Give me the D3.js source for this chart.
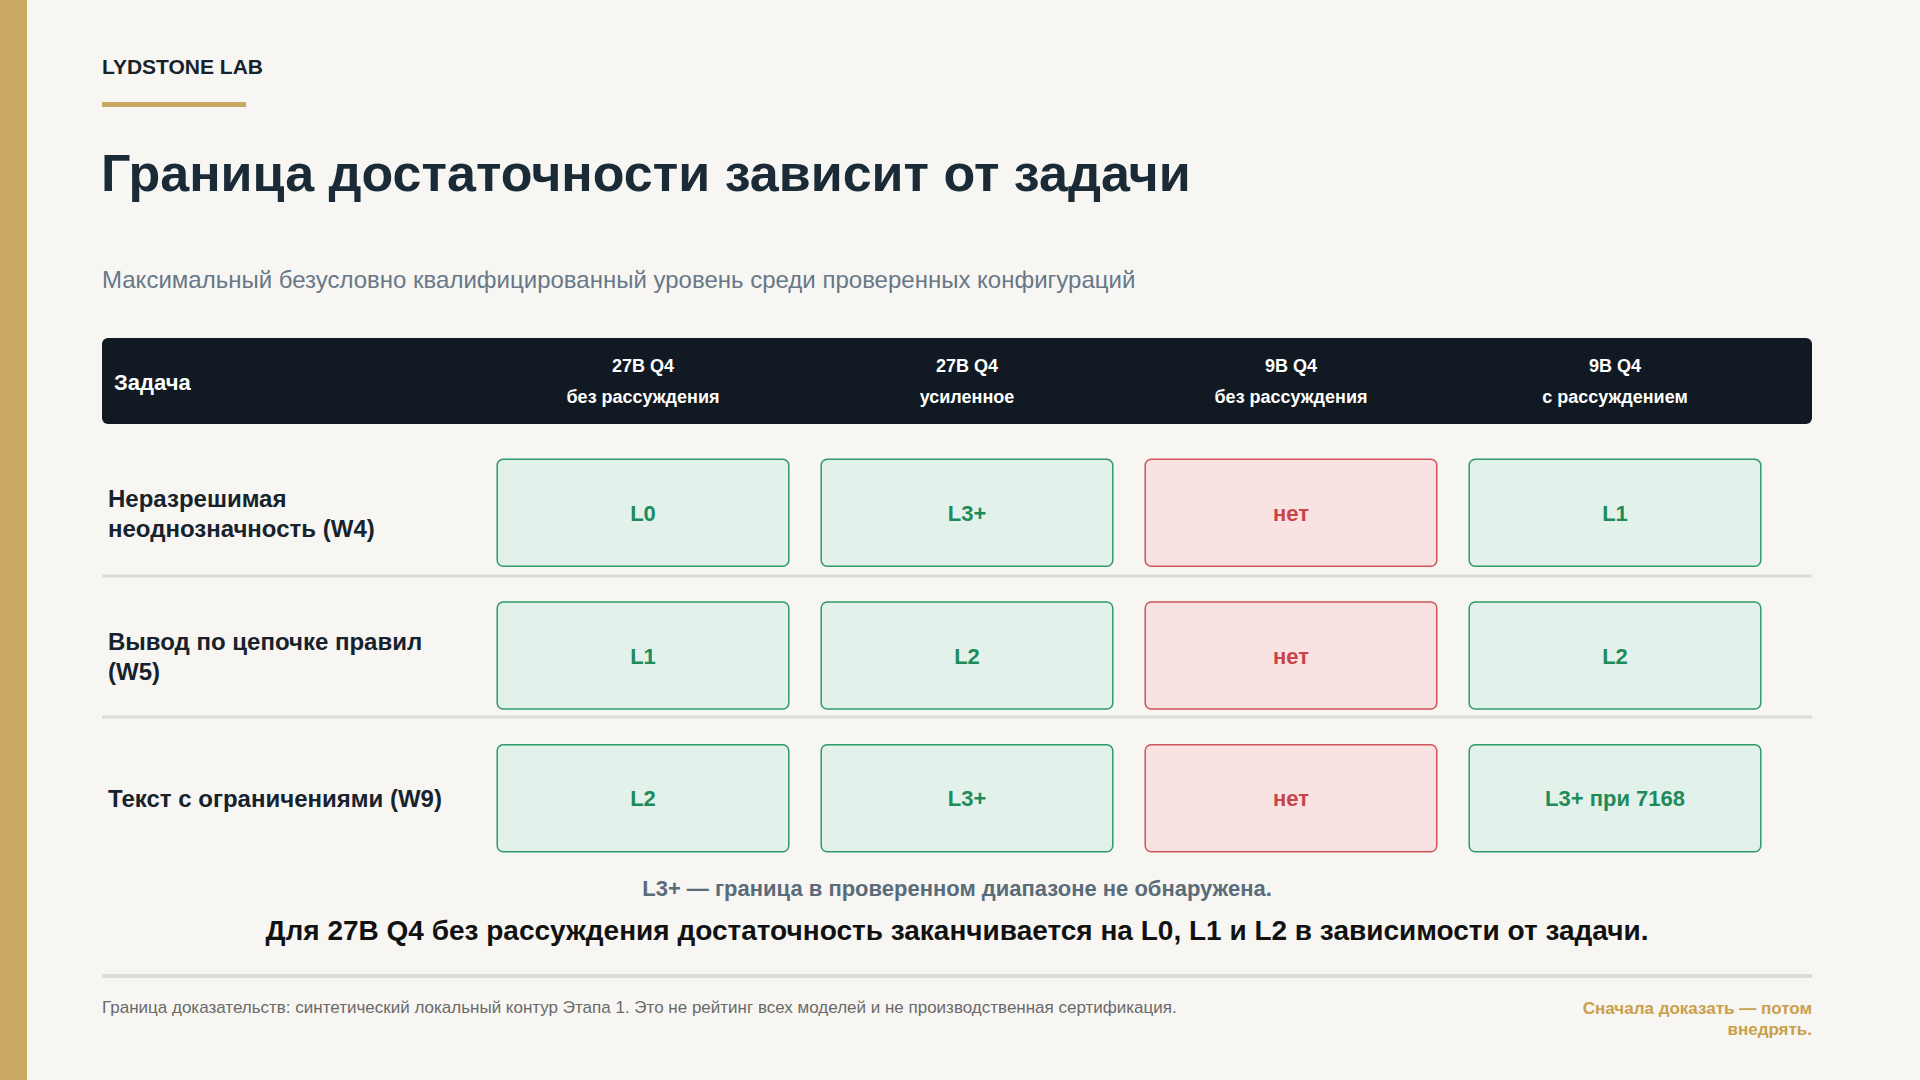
<!DOCTYPE html>
<html><head><meta charset="utf-8">
<script src="https://cdn.jsdelivr.net/npm/d3@7"></script>
<style>body{margin:0;background:#f7f6f2;}svg{display:block;font-family:"Liberation Sans",Arial,sans-serif;}</style>
</head><body><div id="chart"></div>
<script>
var configs = [["27B Q4","без рассуждения"],["27B Q4","усиленное"],["9B Q4","без рассуждения"],["9B Q4","с рассуждением"]];
var tasks = [["Неразрешимая","неоднозначность (W4)"],["Вывод по цепочке правил","(W5)"],["Текст с ограничениями (W9)"]];
var levels = [["L0","L3+","нет","L1"],["L1","L2","нет","L2"],["L2","L3+","нет","L3+ при 7168"]];

var svg = d3.select("#chart").append("svg").attr("width",1920).attr("height",1080);
svg.append("rect").attr("width",1920).attr("height",1080).attr("fill","#f7f6f2");
svg.append("rect").attr("width",27).attr("height",1080).attr("fill","#c8a862");

svg.append("text").attr("x",102).attr("y",74).attr("font-size",21).attr("font-weight","bold").attr("fill","#16222c").text("LYDSTONE LAB");
svg.append("rect").attr("x",102).attr("y",102).attr("width",144).attr("height",5).attr("fill","#c8a862");
svg.append("text").attr("x",101).attr("y",191).attr("font-size",52).attr("font-weight","bold").attr("fill","#1a2a36").text("Граница достаточности зависит от задачи");
svg.append("text").attr("x",102).attr("y",288).attr("font-size",24).attr("fill","#687888").text("Максимальный безусловно квалифицированный уровень среди проверенных конфигураций");

var x = d3.scaleBand().domain(d3.range(configs.length)).range([481,1777]).paddingInner(0.1).paddingOuter(0.05);
var y = d3.scaleBand().domain(d3.range(tasks.length)).range([445,866]).paddingInner(0.25).paddingOuter(0.1);

// header
svg.append("rect").attr("x",102).attr("y",338).attr("width",1710).attr("height",86).attr("rx",6).attr("fill","#111a22");
svg.append("text").attr("x",114).attr("y",390).attr("font-size",22).attr("font-weight","bold").attr("fill","#fff").text("Задача");
configs.forEach(function(c,i){
  var t = svg.append("text").attr("text-anchor","middle").attr("font-size",18).attr("font-weight","bold").attr("fill","#fff");
  t.append("tspan").attr("x",x(i)+x.bandwidth()/2).attr("y",372).text(c[0]);
  t.append("tspan").attr("x",x(i)+x.bandwidth()/2).attr("y",403).text(c[1]);
});

// row dividers
[576,717].forEach(function(v){
  svg.append("rect").attr("x",102).attr("y",v-1.5).attr("width",1710).attr("height",3).attr("fill","#dcdcd8");
});

tasks.forEach(function(lines,r){
  var cy = y(r)+y.bandwidth()/2;
  var t = svg.append("text").attr("font-size",24).attr("font-weight","bold").attr("fill","#16222c");
  lines.forEach(function(l,k){
    t.append("tspan").attr("x",108).attr("y",cy+9+(k-(lines.length-1)/2)*30).text(l);
  });
  levels[r].forEach(function(v,c){
    var no = v==="нет";
    svg.append("rect").attr("x",x(c)).attr("y",y(r)).attr("width",x.bandwidth()).attr("height",y.bandwidth()).attr("rx",6)
      .attr("fill",no?"#f8e3e2":"#e2f2ea").attr("stroke",no?"#d0545a":"#2e9a68").attr("stroke-width",1.5);
    svg.append("text").attr("x",x(c)+x.bandwidth()/2).attr("y",cy+8).attr("text-anchor","middle").attr("font-size",22).attr("font-weight","bold")
      .attr("fill",no?"#c8434a":"#1f8a5a").text(v);
  });
});

svg.append("text").attr("x",957).attr("y",896).attr("text-anchor","middle").attr("font-size",22).attr("font-weight","bold").attr("fill","#5a6b7a").text("L3+ — граница в проверенном диапазоне не обнаружена.");
svg.append("text").attr("x",957).attr("y",940).attr("text-anchor","middle").attr("font-size",28).attr("font-weight","bold").attr("fill","#111").text("Для 27B Q4 без рассуждения достаточность заканчивается на L0, L1 и L2 в зависимости от задачи.");
svg.append("rect").attr("x",102).attr("y",974).attr("width",1710).attr("height",4).attr("fill","#dcdcd8");
svg.append("text").attr("x",102).attr("y",1013).attr("font-size",17).attr("fill","#6a6a6a").text("Граница доказательств: синтетический локальный контур Этапа 1. Это не рейтинг всех моделей и не производственная сертификация.");
var f = svg.append("text").attr("text-anchor","end").attr("font-size",17).attr("font-weight","bold").attr("fill","#c8a04a");
f.append("tspan").attr("x",1812).attr("y",1014).text("Сначала доказать — потом");
f.append("tspan").attr("x",1812).attr("y",1035).text("внедрять.");
</script></body></html>
